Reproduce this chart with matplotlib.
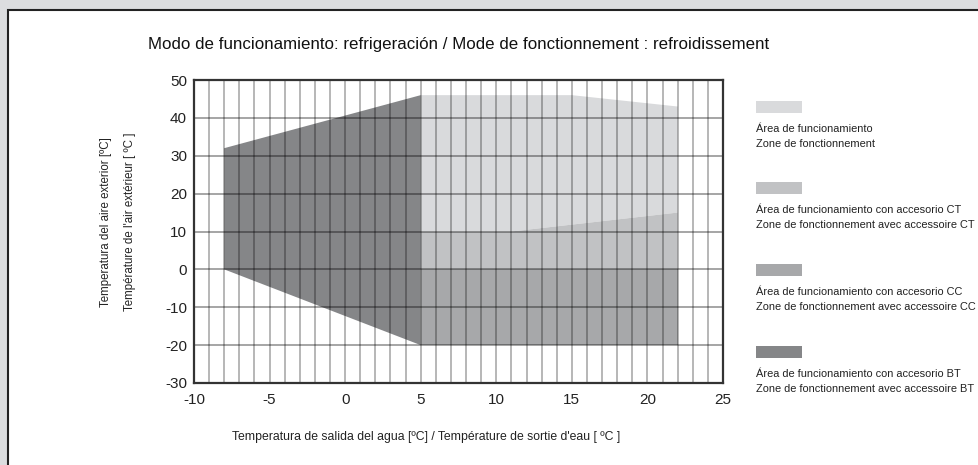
import matplotlib
matplotlib.use("Agg")
import matplotlib.pyplot as plt
from matplotlib.patches import Rectangle

plt.rcParams['font.family'] = ['Liberation Sans', 'DejaVu Sans']

# ---- data ----
title = "Modo de funcionamiento: refrigeración / Mode de fonctionnement : refroidissement"
xlabel = "Temperatura de salida del agua [ºC] / Température de sortie d'eau [ ºC ]"
ylabel1 = "Temperatura del aire exterior [ºC]"
ylabel2 = "Température de l'air extérieur [ ºC ]"

x_ticks = [-10, -5, 0, 5, 10, 15, 20, 25]
y_ticks = [-30, -20, -10, 0, 10, 20, 30, 40, 50]

# BT zone polygon
bt_x = [-8, -8, 5, 5]
bt_y = [0, 32, 46, -20]
# operating zone upper boundary
op_top_x = [5, 15, 22]
op_top_y = [46, 46, 43]
# CT zone upper boundary
ct_top_x = [5, 11, 22]
ct_top_y = [10, 10, 15]
# CC zone
cc_x = [5, 22]
cc_y = [-20, 0]

legend_labels = [
    ("Área de funcionamiento", "Zone de fonctionnement"),
    ("Área de funcionamiento con accesorio CT", "Zone de fonctionnement avec accessoire CT"),
    ("Área de funcionamiento con accesorio CC", "Zone de fonctionnement avec accessoire CC"),
    ("Área de funcionamiento con accesorio BT", "Zone de fonctionnement avec accessoire BT"),
]
colors = ["#d9dadc", "#c1c2c4", "#a7a8aa", "#858688"]

W, H = 979, 465
fig = plt.figure(figsize=(W / 100, H / 100), dpi=100, facecolor="#dcdddf")

# white panel (behind everything)
fig.patches.append(Rectangle((8 / W, -0.1), 1.2, 1 - 10 / H + 0.1, transform=fig.transFigure,
                             facecolor="white", edgecolor="#222222", linewidth=1.5, zorder=-10))

ax = fig.add_axes([194 / W, 1 - 383 / H, (723 - 194) / W, (383 - 80) / H], zorder=5)
ax.set_xlim(-10, 25)
ax.set_ylim(-30, 50)
ax.set_facecolor("white")

# operating zone (lightest): between CT top line and op top line
op_poly_x = op_top_x + ct_top_x[::-1]
op_poly_y = op_top_y + ct_top_y[::-1]
ax.fill(op_poly_x, op_poly_y, color=colors[0], lw=0, zorder=1)
# CT zone
ct_poly_x = ct_top_x + [cc_x[1], cc_x[0]]
ct_poly_y = ct_top_y + [cc_y[1], cc_y[1]]
ax.fill(ct_poly_x, ct_poly_y, color=colors[1], lw=0, zorder=1)
# CC zone
ax.fill([cc_x[0], cc_x[1], cc_x[1], cc_x[0]], [cc_y[0], cc_y[0], cc_y[1], cc_y[1]],
        color=colors[2], lw=0, zorder=1)
# BT zone
ax.fill(bt_x, bt_y, color=colors[3], lw=0, zorder=1)

# grid
for xv in range(-10, 26):
    ax.axvline(xv, color="black", alpha=0.36, lw=1.1, zorder=2)
for yv in y_ticks:
    ax.axhline(yv, color="black", alpha=0.45, lw=1.1, zorder=2)

ax.set_xticks(x_ticks)
ax.set_yticks(y_ticks)
ax.set_xticklabels([str(v) for v in x_ticks])
ax.set_yticklabels([str(v) for v in y_ticks])
ax.tick_params(length=0, labelsize=11, colors="#222222", pad=5)
ax.tick_params(axis='x', pad=7)
for s in ax.spines.values():
    s.set_color("#333333")
    s.set_linewidth(1.6)
    s.set_zorder(3)

fig.text(148 / W, 1 - 44 / H, title, fontsize=12.2, va="center", ha="left", color="#111111")
fig.text(232 / W, 1 - 437 / H, xlabel, fontsize=8.8, va="center", ha="left", color="#222222")
fig.text(106 / W, 1 - 222 / H, ylabel1, fontsize=8.3, va="center", ha="center",
         rotation=90, color="#222222")
fig.text(130 / W, 1 - 222 / H, ylabel2, fontsize=8.3, va="center", ha="center",
         rotation=90, color="#222222")

# legend
swatch_tops = [101, 182, 264, 346]
for (l1, l2), c, top in zip(legend_labels, colors, swatch_tops):
    fig.patches.append(Rectangle((756 / W, 1 - (top + 12) / H), 46 / W, 12 / H,
                                 transform=fig.transFigure, facecolor=c, edgecolor="none"))
    fig.text(756 / W, 1 - (top + 28) / H, l1, fontsize=7.9, va="center", ha="left", color="#222222")
    fig.text(756 / W, 1 - (top + 43) / H, l2, fontsize=7.9, va="center", ha="left", color="#222222")

fig.savefig("out.png", dpi=100, facecolor=fig.get_facecolor())
